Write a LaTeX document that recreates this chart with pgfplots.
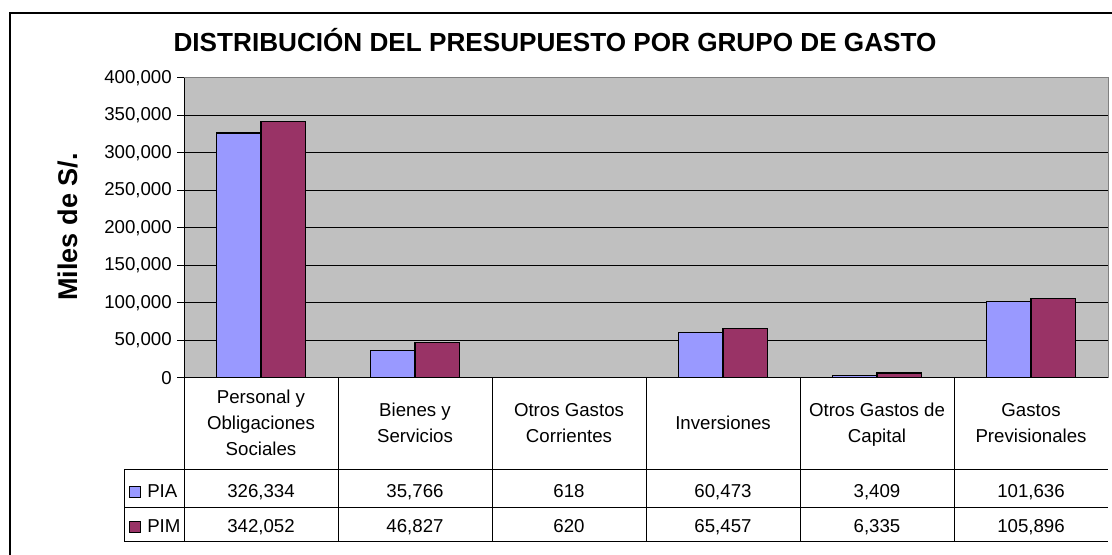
\documentclass[border=0pt]{standalone}
\usepackage{pgfplots}
\pgfplotsset{compat=1.18}
\usepackage{fontspec}
\setmainfont{Liberation Sans}
\definecolor{pia}{HTML}{9999FF}
\definecolor{pim}{HTML}{993366}
\definecolor{bg}{HTML}{C0C0C0}
\definecolor{bord}{HTML}{808080}
\begin{document}
\begin{tikzpicture}
\useasboundingbox (0,0) rectangle (834pt,415.5pt);
\begin{axis}[
  at={(138pt,132.225pt)}, anchor=south west,
  scale only axis, width=693pt, height=225pt,
  xmin=-0.5, xmax=5.5, ymin=0, ymax=400000,
  ybar=0pt, bar width=33.5pt,
  xtick=\empty,
  ytick={0,50000,100000,150000,200000,250000,300000,350000,400000},
  ytick pos=left,
  scaled y ticks=false,
  /pgf/number format/assume math mode=true,
  yticklabel style={/pgf/number format/fixed, /pgf/number format/1000 sep={,}, inner sep=0pt, anchor=east, xshift=-4pt, font=\fontsize{14}{16}\selectfont},
  tick align=outside, major tick length=5pt,
  tick style={black, line width=0.75pt},
  ymajorgrids, grid style={black, line width=0.75pt},
  axis background/.style={fill=bg},
  axis line style={bord, line width=0.75pt},
]
\addplot[fill=pia, draw=black, line width=0.9pt] coordinates {(0,326334) (1,35766) (2,618) (3,60473) (4,3409) (5,101636)};
\addplot[fill=pim, draw=black, line width=0.9pt] coordinates {(0,342052) (1,46827) (2,620) (3,65457) (4,6335) (5,105896)};
\end{axis}
\begin{scope}[x=0.75pt, y=-0.75pt, yshift=415.5pt]
  % outer frame
  \draw[line width=1pt] (10,13) rectangle (1130,600);
  % axis lines
  \draw[black, line width=0.75pt] (184,77.7) -- (184,541);
  \draw[black, line width=0.75pt] (184,377.7) -- (1108,377.7);
  % table
  \draw[black, line width=0.75pt] (124,469) -- (1108,469);
  \draw[black, line width=0.75pt] (124,507) -- (1108,507);
  \draw[black, line width=0.75pt] (124,541) -- (1108,541);
  \draw[black, line width=0.75pt] (124,469) -- (124,541);
  \foreach \k in {1,...,5} \draw[black, line width=0.75pt] ({184+154*\k},377.7) -- ({184+154*\k},541);
  % title
  \node[anchor=base, inner sep=0pt, font=\bfseries\fontsize{19.6}{22}\selectfont] at (555,51.7) {DISTRIBUCIÓN DEL PRESUPUESTO POR GRUPO DE GASTO};
  \node[rotate=90, anchor=base, inner sep=0pt, font=\bfseries\fontsize{20.3}{24}\selectfont] at (77,227) {Miles de S/.};
  \begin{scope}[every node/.style={anchor=base, inner sep=0pt, font=\fontsize{14}{16}\selectfont}]
    \node at (261,403) {Personal y};
    \node at (261,429) {Obligaciones};
    \node at (261,455) {Sociales};
    \node at (415,416) {Bienes y};
    \node at (415,442) {Servicios};
    \node at (569,416) {Otros Gastos};
    \node at (569,442) {Corrientes};
    \node at (723,429) {Inversiones};
    \node at (877,416) {Otros Gastos de};
    \node at (877,442) {Capital};
    \node at (1031,416) {Gastos};
    \node at (1031,442) {Previsionales};
    \node at (261,497) {326,334};
    \node at (415,497) {35,766};
    \node at (569,497) {618};
    \node at (723,497) {60,473};
    \node at (877,497) {3,409};
    \node at (1031,497) {101,636};
    \node at (261,532) {342,052};
    \node at (415,532) {46,827};
    \node at (569,532) {620};
    \node at (723,532) {65,457};
    \node at (877,532) {6,335};
    \node at (1031,532) {105,896};
    \node[anchor=base west] at (147,497) {PIA};
    \node[anchor=base west] at (147,532) {PIM};
  \end{scope}
  \draw[fill=pia, line width=0.75pt] (129.5,486) rectangle (140.5,497);
  \draw[fill=pim, line width=0.75pt] (129.5,521) rectangle (140.5,532);
\end{scope}
\end{tikzpicture}
\end{document}
